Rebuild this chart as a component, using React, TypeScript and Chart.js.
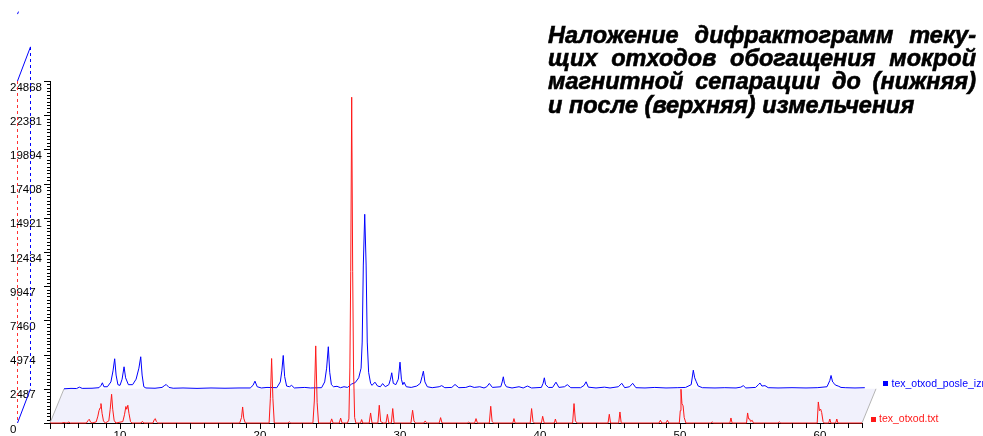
import React, { useEffect, useRef } from 'react';
import { Chart, registerables } from 'chart.js';

Chart.register(...registerables);

// ---- Data ----
// Lower pattern: before milling (tex_otxod.txt), 2θ in degrees and counts
const redAngles = [
  5.0, 5.8, 6.0, 6.15, 6.25, 6.35, 6.45, 7.6, 7.72, 7.8, 7.9, 8.0, 8.3, 8.42, 8.5, 8.58, 8.64, 8.72, 8.82, 8.95,
  9.2, 9.3, 9.4, 9.48, 9.58, 9.7, 10.2, 10.32, 10.42, 10.48, 10.56, 10.64, 10.75, 10.85, 11.5, 11.6, 11.7,
  12.35, 12.45, 12.52, 12.6, 12.7, 18.55, 18.68, 18.76, 18.84, 18.95, 20.65, 20.74, 20.83, 20.92, 21.02,
  22.0, 22.1, 22.2, 23.78, 23.88, 23.98, 24.08, 24.18, 25.02, 25.12, 25.22, 25.66, 25.76, 25.86,
  26.25, 26.35, 26.42, 26.48, 26.55, 26.62, 26.68, 26.76, 26.85, 27.18, 27.26, 27.34, 27.8, 27.9, 28.0,
  28.42, 28.52, 28.62, 28.8, 29.0, 29.1, 29.2, 29.38, 29.48, 29.58, 30.78, 30.9, 31.0, 31.1, 31.7, 31.8, 31.9,
  32.8, 32.9, 33.0, 34.8, 34.9, 35.0, 35.33, 35.43, 35.53, 36.38, 36.48, 36.58, 36.7, 38.06, 38.14, 38.22,
  39.3, 39.4, 39.5, 39.6, 40.1, 40.19, 40.3, 41.02, 41.1, 41.18, 42.33, 42.43, 42.53, 42.65,
  44.86, 44.95, 45.04, 45.62, 45.71, 45.8, 48.5, 48.6, 48.7, 49.0, 49.1, 49.2,
  49.95, 50.02, 50.07, 50.14, 50.22, 50.3, 50.42, 52.2, 52.3, 52.4, 53.56, 53.64, 53.72,
  54.75, 54.83, 54.9, 54.97, 55.05, 55.15, 55.25, 57.0, 57.1, 57.2,
  59.8, 59.88, 59.96, 60.05, 60.12, 60.22, 60.3, 60.62, 60.7, 60.78, 61.12, 61.2, 61.28, 63.0,
];
const redCounts = [
  0, 0, 30, 0, 30, 70, 0, 0, 180, 270, 60, 0, 80, 500, 900, 1100, 1412, 700, 150, 0,
  150, 1000, 2090, 1000, 200, 0, 100, 600, 1200, 1000, 1290, 700, 100, 0, 0, 120, 0,
  0, 250, 320, 100, 0, 0, 400, 1165, 350, 0, 0, 1800, 4688, 1800, 0,
  0, 80, 0, 0, 1600, 5606, 1500, 0, 0, 300, 0, 0, 360, 0,
  0, 300, 4000, 11000, 23689, 11000, 4000, 400, 0, 0, 250, 0, 0, 730, 0,
  0, 1290, 100, 0, 0, 630, 0, 0, 1050, 0, 0, 925, 150, 0, 0, 150, 0,
  0, 390, 0, 0, 60, 0, 0, 320, 0, 0, 1216, 100, 0, 0, 320, 0,
  0, 1048, 100, 0, 0, 488, 0, 0, 290, 0, 0, 1412, 150, 0,
  0, 633, 0, 0, 801, 0, 0, 200, 0, 0, 200, 0,
  0, 900, 2453, 1400, 1250, 400, 0, 0, 80, 0, 0, 365, 0,
  0, 730, 300, 300, 100, 200, 0, 0, 80, 0,
  0, 1530, 900, 1000, 760, 100, 0, 0, 290, 0, 0, 290, 0, 0,
];

// Upper pattern: after milling (tex_otxod_posle_izm.txt), 2θ in degrees and counts
const blueAngles = [
  5.0, 5.5, 5.9, 6.1, 6.3, 7.0, 7.5, 7.65, 7.74, 7.85, 8.1, 8.35, 8.5, 8.62, 8.72, 8.85, 9.0, 9.15, 9.29, 9.4,
  9.6, 9.9, 10.15, 10.35, 10.48, 10.58, 10.7, 10.85, 11.5, 12.0, 12.2, 12.3, 12.5, 12.8, 13.5, 14.5, 15.5,
  16.5, 17.5, 18.3, 18.5, 18.64, 18.8, 19.1, 19.5, 20.2, 20.45, 20.56, 20.66, 20.76, 20.9, 21.1, 21.26, 21.45,
  22.2, 22.6, 23.4, 23.62, 23.76, 23.88, 23.98, 24.1, 24.25, 24.5, 24.75, 25.0, 25.25, 25.55, 25.8, 26.05,
  26.22, 26.3, 26.38, 26.48, 26.58, 26.66, 26.76, 26.9, 27.0, 27.21, 27.4, 27.6, 27.76, 27.95, 28.2, 28.32,
  28.41, 28.52, 28.7, 28.88, 29.0, 29.1, 29.2, 29.29, 29.45, 29.8, 30.2, 30.45, 30.58, 30.67, 30.78, 30.95,
  31.3, 31.8, 31.98, 32.2, 32.7, 32.93, 33.2, 33.7, 34.0, 34.3, 34.7, 35.0, 35.2, 35.38, 35.6, 36.2, 36.3,
  36.38, 36.46, 36.6, 37.0, 37.5, 37.8, 38.1, 38.4, 39.1, 39.22, 39.31, 39.4, 39.6, 39.9, 40.14, 40.35,
  40.75, 40.95, 41.2, 41.9, 42.15, 42.29, 42.45, 43.0, 43.6, 44.0, 44.6, 44.84, 45.05, 45.4, 45.62, 45.85,
  46.5, 47.2, 48.0, 48.8, 49.4, 49.8, 49.9, 49.95, 50.05, 50.15, 50.3, 50.6, 51.5, 52.2, 53.0, 53.35, 53.52,
  53.7, 54.4, 54.6, 54.71, 54.85, 55.07, 55.3, 56.0, 57.0, 58.0, 58.8, 59.5, 59.7, 59.79, 59.9, 60.0, 60.1,
  60.3, 60.5, 60.8, 61.5, 62.2, 63.0,
];
const blueCounts = [
  0, 30, 20, 120, 30, 40, 80, 250, 437, 150, 150, 500, 1300, 2184, 1000, 300, 250, 700, 1600, 800,
  300, 300, 700, 1500, 2330, 1000, 150, 60, 40, 100, 250, 313, 100, 40, 60, 30, 60,
  40, 60, 60, 250, 555, 150, 60, 100, 80, 500, 1300, 2424, 900, 200, 150, 250, 60,
  100, 60, 80, 500, 1500, 3058, 1200, 300, 150, 180, 80, 150, 100, 350, 450, 800,
  1500, 3400, 9000, 12689, 9000, 3400, 1200, 400, 250, 480, 200, 150, 380, 150, 300, 700,
  1165, 400, 300, 700, 1937, 700, 300, 480, 150, 100, 200, 400, 900, 1281, 500, 150,
  80, 150, 230, 80, 100, 313, 80, 100, 200, 100, 150, 60, 150, 390, 100, 150, 500,
  873, 400, 150, 60, 150, 60, 200, 60, 100, 400, 800, 300, 100, 100, 480, 100,
  150, 300, 80, 80, 250, 510, 120, 60, 120, 60, 150, 400, 80, 150, 400, 80,
  60, 100, 60, 80, 100, 300, 1000, 1354, 800, 550, 200, 80, 60, 80, 60, 120, 230,
  60, 100, 300, 420, 200, 230, 80, 60, 80, 60, 80, 150, 600, 970, 500, 400, 270,
  200, 100, 80, 60, 80, 0,
];

const yTickLabels = ['0', '2487', '4974', '7460', '9947', '12434', '14921', '17408', '19894', '22381', '24868'];
const xTickLabels = ['10', '20', '30', '40', '50', '60'];
const seriesNames = ['tex_otxod.txt', 'tex_otxod_posle_izm.txt'];
const titleLines = [
  'Наложение дифрактограмм теку-',
  'щих отходов обогащения мокрой',
  'магнитной сепарации до (нижняя)',
  'и после (верхняя) измельчения',
];

const X_MIN = 5;
const X_MAX = 63;
const Y_MAX = 24868;
const Y_STEP = Y_MAX / 10;
const BLUE_SHIFT_X = 1; // upper pattern drawn one degree to the right (pseudo-3D)
const BLUE_SHIFT_Y = Y_STEP; // and one major step up

const RED = 'rgb(255,25,25)';
const BLUE = 'rgb(0,0,255)';

function dashedV(ctx: CanvasRenderingContext2D, x: number, yA: number, yB: number, color: string) {
  ctx.fillStyle = color;
  const top = Math.round(Math.min(yA, yB));
  const bottom = Math.round(Math.max(yA, yB));
  for (let y = top; y < bottom; y += 6) {
    ctx.fillRect(Math.round(x), y, 1, Math.min(3, bottom - y));
  }
}

const decorPlugin = {
  id: 'decor3d',
  beforeDatasetsDraw(chart: any) {
    const { ctx, scales } = chart;
    const xs = scales.x;
    const ys = scales.y;
    const x0 = xs.getPixelForValue(X_MIN);
    const x1 = xs.getPixelForValue(X_MAX);
    const dx = xs.getPixelForValue(X_MIN + BLUE_SHIFT_X) - x0;
    const yb = ys.getPixelForValue(0);
    const yt = ys.getPixelForValue(BLUE_SHIFT_Y);
    ctx.save();
    ctx.fillStyle = '#f1f1fc';
    ctx.beginPath();
    ctx.moveTo(x0, yb);
    ctx.lineTo(x0 + dx, yt);
    ctx.lineTo(x1 + dx, yt);
    ctx.lineTo(x1, yb);
    ctx.closePath();
    ctx.fill();
    ctx.strokeStyle = '#b4b4b4';
    ctx.lineWidth = 1;
    ctx.beginPath();
    ctx.moveTo(x0, yb);
    ctx.lineTo(x0 + dx, yt);
    ctx.moveTo(x1, yb);
    ctx.lineTo(x1 + dx, yt);
    ctx.stroke();
    ctx.restore();
  },
  afterDraw(chart: any) {
    const { ctx, scales } = chart;
    const xs = scales.x;
    const ys = scales.y;
    const x0 = xs.getPixelForValue(X_MIN);
    const x1 = xs.getPixelForValue(X_MAX);
    const dx = xs.getPixelForValue(X_MIN + BLUE_SHIFT_X) - x0;
    const yb = ys.getPixelForValue(0);
    const yt = ys.getPixelForValue(BLUE_SHIFT_Y);
    const ytop = ys.getPixelForValue(Y_MAX);
    const dy = yb - yt;
    ctx.save();
    // tick marks
    ctx.strokeStyle = '#000';
    ctx.lineWidth = 1;
    ctx.beginPath();
    for (let v = X_MIN; v <= X_MAX; v++) {
      const px = Math.round(xs.getPixelForValue(v)) + 0.5;
      const len = v % 5 === 0 ? 6 : 5;
      ctx.moveTo(px, yb);
      ctx.lineTo(px, yb + len);
    }
    for (let k = 0; k <= 100; k++) {
      const py = Math.round(ys.getPixelForValue((k * Y_STEP) / 10)) + 0.5;
      const len = k % 10 === 0 ? 6 : 3;
      ctx.moveTo(x0 - len, py);
      ctx.lineTo(x0, py);
    }
    ctx.stroke();

    // pseudo-3D depth axes at the left
    const rxi = Math.round(x0 - 33);
    const bxi = Math.round(x0 - 33 + dx - 1);
    dashedV(ctx, rxi, ytop, yb, 'rgb(255,50,50)');
    dashedV(ctx, bxi, ytop - dy, yt, BLUE);
    ctx.strokeStyle = BLUE;
    ctx.lineWidth = 1;
    ctx.beginPath();
    ctx.moveTo(rxi + 0.5, ytop);
    ctx.lineTo(bxi + 0.5, ytop - dy);
    ctx.moveTo(rxi + 0.5, yb);
    ctx.lineTo(bxi + 0.5, yt);
    ctx.moveTo(rxi + 0.5, ytop - 2 * dy + 1.5);
    ctx.lineTo(rxi + 1.5, ytop - 2 * dy - 1);
    ctx.stroke();

    // series labels at the right end of each baseline
    ctx.font = '10.5px "Liberation Sans", Arial, sans-serif';
    ctx.textBaseline = 'middle';
    ctx.textAlign = 'left';
    ctx.fillStyle = BLUE;
    ctx.fillRect(Math.round(x1 + dx + 7), Math.round(yt - 8), 5, 5);
    ctx.fillText(seriesNames[1], x1 + dx + 15.5, yt - 5);
    ctx.fillStyle = RED;
    ctx.fillRect(Math.round(x1 + 9), Math.round(yb - 6.5), 5, 5);
    ctx.fillText(seriesNames[0], x1 + 17, yb - 4);
    ctx.restore();
  },
};

export default function App() {
  const canvasRef = useRef<HTMLCanvasElement | null>(null);

  useEffect(() => {
    const canvas = canvasRef.current;
    if (!canvas) return;
    const tickFont = { family: '"Liberation Sans", Arial, sans-serif', size: 11.5 };
    const chart = new Chart(canvas, {
      type: 'line',
      data: {
        datasets: [
          {
            label: seriesNames[0],
            data: redAngles.map((a, i) => ({ x: a, y: redCounts[i] })),
            borderColor: RED,
            borderWidth: 1,
            pointRadius: 0,
            tension: 0,
            fill: false,
            order: 0,
            clip: false,
          } as any,
          {
            label: seriesNames[1],
            data: blueAngles.map((a, i) => ({ x: a + BLUE_SHIFT_X, y: blueCounts[i] + BLUE_SHIFT_Y })),
            borderColor: BLUE,
            borderWidth: 1,
            pointRadius: 0,
            tension: 0,
            fill: false,
            order: 1,
            clip: false,
          } as any,
        ],
      },
      options: {
        responsive: false,
        animation: false,
        devicePixelRatio: 1,
        layout: { padding: { left: 10, top: 81, right: 121, bottom: 0 } },
        plugins: {
          legend: { display: false },
          tooltip: { enabled: false },
          title: { display: false },
        },
        scales: {
          x: {
            type: 'linear',
            min: X_MIN,
            max: X_MAX,
            grid: { display: false, drawTicks: false },
            border: { display: true, color: '#000', width: 1 },
            afterBuildTicks: (s: any) => {
              s.ticks = xTickLabels.map((l) => ({ value: Number(l) }));
            },
            afterFit: (s: any) => {
              s.height = 13;
            },
            ticks: {
              autoSkip: false,
              maxRotation: 0,
              padding: 6,
              color: '#000',
              font: tickFont,
              callback: (v: any) => String(v),
            },
          },
          y: {
            type: 'linear',
            min: 0,
            max: Y_MAX,
            grid: { display: false, drawTicks: false },
            border: { display: true, color: '#000', width: 1 },
            afterBuildTicks: (s: any) => {
              s.ticks = yTickLabels.map((_, i) => ({ value: i * Y_STEP }));
            },
            afterFit: (s: any) => {
              s.width = 40;
            },
            ticks: {
              autoSkip: false,
              crossAlign: 'far',
              labelOffset: 6.5,
              padding: 0,
              color: '#000',
              font: tickFont,
              callback: (_v: any, i: number) => yTickLabels[i],
            },
          },
        },
      } as any,
      plugins: [decorPlugin as any],
    });
    return () => chart.destroy();
  }, []);

  return (
    <div style={{ position: 'fixed', left: 0, top: 0, width: 983, height: 436, background: '#fff', overflow: 'hidden' }}>
      <canvas ref={canvasRef} width={983} height={436} style={{ position: 'absolute', left: 0, top: 0 }} />
      <div
        style={{
          position: 'absolute',
          left: 548,
          top: 23.5,
          width: 428,
          fontFamily: '"Liberation Sans", Arial, sans-serif',
          fontWeight: 'bold',
          fontStyle: 'italic',
          fontSize: 23.5,
          lineHeight: '23.4px',
          color: '#000',
          WebkitTextStroke: '0.6px #000',
        } as any}
      >
        {titleLines.map((line, i) => (
          <div
            key={i}
            style={{
              textAlign: i < titleLines.length - 1 ? 'justify' : 'left',
              textAlignLast: i < titleLines.length - 1 ? 'justify' : 'left',
            } as any}
          >
            {line}
          </div>
        ))}
      </div>
    </div>
  );
}
